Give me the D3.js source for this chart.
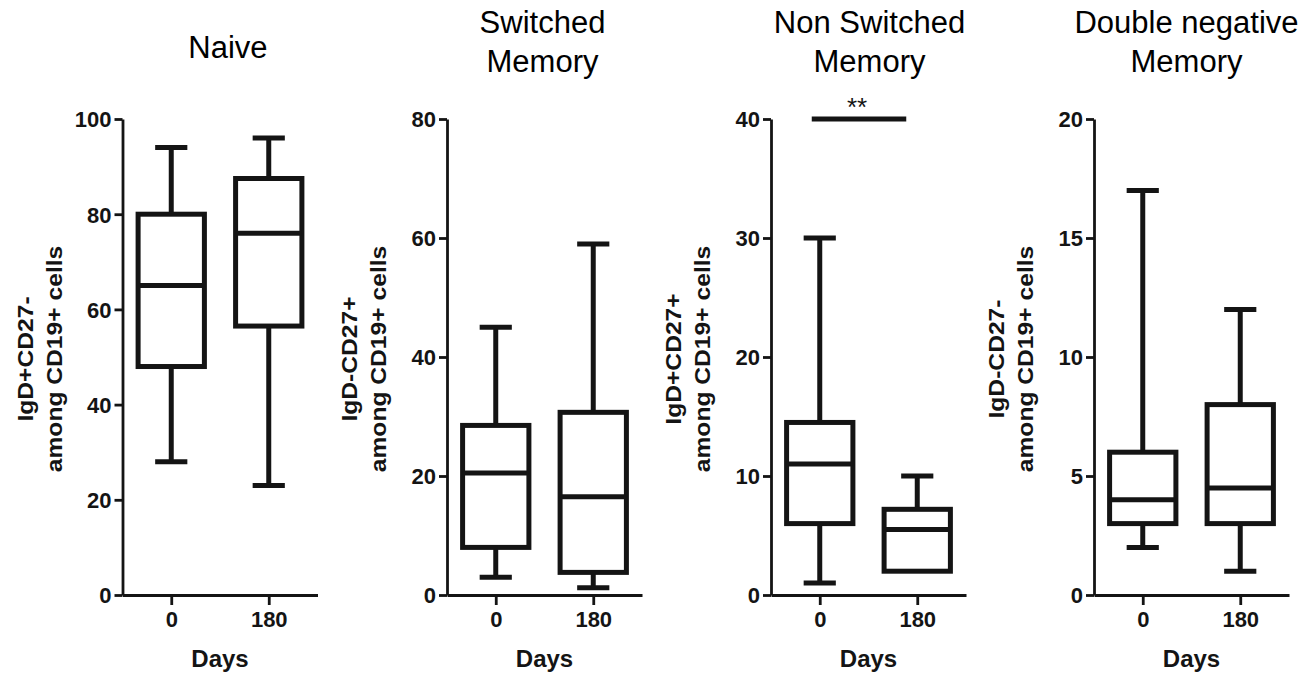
<!DOCTYPE html>
<html>
<head>
<meta charset="utf-8">
<script src="https://cdn.jsdelivr.net/npm/d3@7"></script>
<style>
  html, body { margin: 0; padding: 0; background: #ffffff; }
  svg { display: block; }
</style>
</head>
<body>
<svg id="chart" width="1314" height="674"></svg>
<script>
// ---------------- DATA ----------------
const titles = [["Naive"], ["Switched", "Memory"], ["Non Switched", "Memory"], ["Double negative", "Memory"]];
const yLabels = [["IgD+CD27-", "among CD19+ cells"], ["IgD-CD27+", "among CD19+ cells"], ["IgD+CD27+", "among CD19+ cells"], ["IgD-CD27-", "among CD19+ cells"]];
const categories = ["0", "180"];
const xLabel = "Days";
const yMax = [100, 80, 40, 20];
const yTicks = [[0, 20, 40, 60, 80, 100], [0, 20, 40, 60, 80], [0, 10, 20, 30, 40], [0, 5, 10, 15, 20]];
// per panel, per category: [min, q1, median, q3, max]
const whiskerLow = [[28, 23], [3, 1.2], [1, 2], [2, 1]];
const q1 = [[48, 56.5], [8, 3.8], [6, 2], [3, 3]];
const median = [[65, 76], [20.5, 16.5], [11, 5.5], [4, 4.5]];
const q3 = [[80, 87.5], [28.5, 30.7], [14.5, 7.2], [6, 8]];
const whiskerHigh = [[94, 96], [45, 59], [30, 10], [17, 12]];
// significance annotations: panel index, value level, label
const significance = [{ panel: 2, level: 40, label: "**" }];

// ---------------- LAYOUT ----------------
const axisX = [122.5, 447, 771, 1094];
const plotW = 195;
const yTop = 119, yBot = 595;
const titleDx = [8, -2, 1, -5];
const ink = "#141414";
const sansFont = "'Liberation Sans', Arial, Helvetica, sans-serif";

const svg = d3.select("#chart");

titles.forEach((t, i) => {
  const g = svg.append("g");
  const x = d3.scalePoint().domain(categories).range([axisX[i], axisX[i] + plotW]).padding(0.5);
  const y = d3.scaleLinear().domain([0, yMax[i]]).range([yBot, yTop]);
  const step = x.step();
  const boxW = step * 0.68;
  const capW = step * 0.33;
  const cx = axisX[i] + plotW / 2;

  // Y axis
  const ya = g.append("g")
    .attr("transform", `translate(${axisX[i]},0)`)
    .call(d3.axisLeft(y).tickValues(yTicks[i]).tickFormat(d3.format("d")).tickSize(8).tickSizeOuter(0).tickPadding(3));
  // X axis
  const xa = g.append("g")
    .attr("transform", `translate(0,${yBot})`)
    .call(d3.axisBottom(x).tickSize(10).tickSizeOuter(0).tickPadding(6));

  [ya, xa].forEach(a => {
    a.select(".domain").attr("stroke", ink).attr("stroke-width", 2.8);
    a.selectAll(".tick line").attr("stroke", ink).attr("stroke-width", 2.8);
    a.selectAll(".tick text")
      .attr("fill", ink)
      .style("font-family", sansFont)
      .style("font-weight", "bold")
      .style("font-size", "22px");
  });
  ya.selectAll(".tick text").attr("dy", "0.36em");

  // Boxes
  categories.forEach((c, j) => {
    const px = x(c);
    const bg = g.append("g")
      .attr("fill", "none").attr("stroke", ink).attr("stroke-width", 5)
      .attr("stroke-linecap", "butt");
    // whiskers
    bg.append("line").attr("x1", px).attr("x2", px).attr("y1", y(q3[i][j])).attr("y2", y(whiskerHigh[i][j]));
    bg.append("line").attr("x1", px).attr("x2", px).attr("y1", y(q1[i][j])).attr("y2", y(whiskerLow[i][j]));
    bg.append("line").attr("x1", px - capW / 2).attr("x2", px + capW / 2).attr("y1", y(whiskerHigh[i][j])).attr("y2", y(whiskerHigh[i][j]));
    if (whiskerLow[i][j] < q1[i][j]) {
      bg.append("line").attr("x1", px - capW / 2).attr("x2", px + capW / 2).attr("y1", y(whiskerLow[i][j])).attr("y2", y(whiskerLow[i][j]));
    }
    // box
    bg.append("rect")
      .attr("x", px - boxW / 2).attr("width", boxW)
      .attr("y", y(q3[i][j])).attr("height", y(q1[i][j]) - y(q3[i][j]))
      .attr("fill", "#ffffff");
    // median
    bg.append("line").attr("x1", px - boxW / 2).attr("x2", px + boxW / 2).attr("y1", y(median[i][j])).attr("y2", y(median[i][j]));
  });

  // Significance
  significance.filter(s => s.panel === i).forEach(s => {
    const x1 = x(categories[0]) - 8, x2 = x(categories[1]) - 11;
    g.append("line").attr("x1", x1).attr("x2", x2).attr("y1", y(s.level)).attr("y2", y(s.level))
      .attr("stroke", ink).attr("stroke-width", 5);
    g.append("text").attr("x", (x1 + x2) / 2 - 2).attr("y", y(s.level) - 3)
      .attr("text-anchor", "middle").attr("fill", ink)
      .style("font-family", sansFont).style("font-size", "26px").text(s.label);
  });

  // Title
  const tg = g.append("text").attr("text-anchor", "middle").attr("fill", "#000")
    .style("font-family", sansFont).style("font-size", "31px");
  const baselines = t.length === 1 ? [58] : [33, 72];
  t.forEach((line, k) => {
    tg.append("tspan").attr("x", cx + titleDx[i]).attr("y", baselines[k]).text(line);
  });

  // Y label (rotated)
  const yc = (yTop + yBot) / 2 + 2;
  yLabels[i].forEach((line, k) => {
    const bx = axisX[i] - (k === 0 ? 90 : 61);
    g.append("text")
      .attr("transform", `translate(${bx},${yc}) rotate(-90) scale(1.12,1)`)
      .attr("text-anchor", "middle").attr("fill", ink)
      .style("font-family", sansFont).style("font-weight", "bold").style("font-size", "22px")
      .text(line);
  });

  // X label
  g.append("text").attr("x", cx).attr("y", 667).attr("text-anchor", "middle").attr("fill", ink)
    .style("font-family", sansFont).style("font-weight", "bold").style("font-size", "24px")
    .text(xLabel);
});
</script>
</body>
</html>
